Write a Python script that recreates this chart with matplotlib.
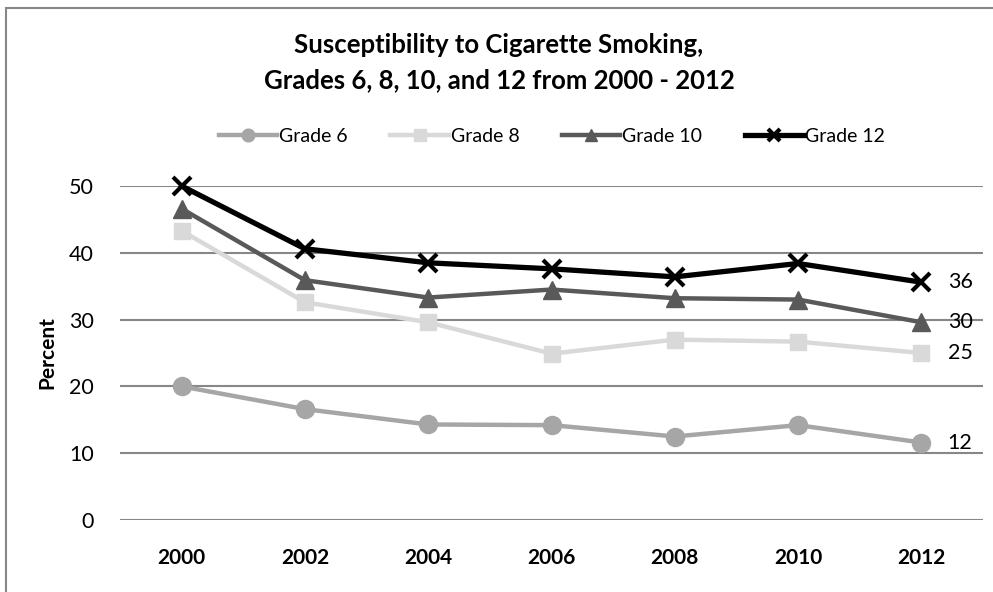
import matplotlib
matplotlib.use("Agg")
import matplotlib.pyplot as plt
from matplotlib.patches import Rectangle

years = ["2000", "2002", "2004", "2006", "2008", "2010", "2012"]
grade6 = [20.0, 16.6, 14.3, 14.2, 12.5, 14.2, 11.6]
grade8 = [43.3, 32.6, 29.6, 24.9, 27.0, 26.7, 25.0]
grade10 = [46.6, 35.9, 33.3, 34.5, 33.2, 33.0, 29.6]
grade12 = [50.0, 40.6, 38.5, 37.6, 36.4, 38.4, 35.6]
end_labels = ["12", "25", "30", "36"]
series_names = ["Grade 6", "Grade 8", "Grade 10", "Grade 12"]

plt.rcParams['font.family'] = ['Lato', 'Open Sans', 'DejaVu Sans']

W, H = 993, 592
fig = plt.figure(figsize=(W / 100, H / 100), dpi=100)
ax = fig.add_axes([120 / W, 1 - 520 / H, (983 - 120) / W, (520 - 186) / H])

x = list(range(len(years)))
styles = [
    dict(color="#A6A6A6", marker="o", markersize=13, lw=3.2),
    dict(color="#D9D9D9", marker="s", markersize=11.5, lw=3.2),
    dict(color="#595959", marker="^", markersize=13, lw=3.2),
    dict(color="#000000", marker="x", markersize=13, lw=3.8, markeredgewidth=3),
]
data = [grade6, grade8, grade10, grade12]
for name, vals, st in zip(series_names, data, styles):
    ax.plot(x, vals, label=name, clip_on=False, zorder=3, **st)

for vals, lab in zip(data, end_labels):
    ax.annotate(lab, (x[-1], vals[-1]), xytext=(19, 0), textcoords="offset points",
                va="center", ha="left", fontsize=15.5, color="black")

ax.set_xlim(-0.5, len(years) - 0.5)
ax.set_ylim(0, 50)
ax.set_yticks([0, 10, 20, 30, 40, 50])
ax.set_xticks(x)
ax.set_xticklabels(years, fontsize=15, fontweight="bold")
ax.tick_params(axis="y", labelsize=15.5, length=0, pad=19)
ax.tick_params(axis="x", length=0, pad=20)
ax.grid(axis="y", color="#878787", lw=1.5, zorder=0)
ax.set_axisbelow(True)
for s in ax.spines.values():
    s.set_visible(False)
ax.set_ylabel("Percent", fontsize=15, fontweight="bold", labelpad=8)

fig.text(499 / W, 1 - 45 / H, "Susceptibility to Cigarette Smoking,", ha="center", va="center",
         fontsize=18.5, fontweight="bold")
fig.text(499 / W, 1 - 80 / H, "Grades 6, 8, 10, and 12 from 2000 - 2012", ha="center", va="center",
         fontsize=18.5, fontweight="bold")

handles, labels = ax.get_legend_handles_labels()
leg = fig.legend(handles, labels, loc="center", bbox_to_anchor=(552 / W, 1 - 136 / H), ncol=4,
                 frameon=False, fontsize=14, handlelength=3.0, handletextpad=0.1,
                 columnspacing=2.2, markerscale=0.7)

fig.patches.append(Rectangle((6 / W, -0.1), 1.2, 1.1 - 8 / H, transform=fig.transFigure,
                             fill=False, edgecolor="#878787", lw=1.5))

fig.savefig("out.png", dpi=100)
